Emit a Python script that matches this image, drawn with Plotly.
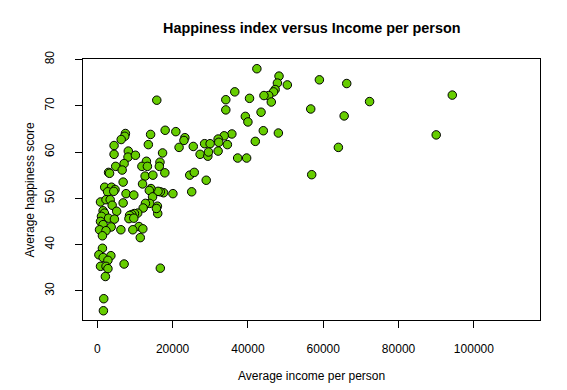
import plotly.graph_objects as go

# Average income per person (x) and average happiness score (y)
income = [15800, 18030, 20860, 23260, 23010, 21720, 14160, 13560, 7470, 7300,
          6350, 4460, 4460, 8240, 8160, 10130, 7130, 4890, 6610, 3000,
          3260, 13050, 11850, 13310, 12700, 14760, 17340, 16650, 16480, 17940,
          24550, 25750, 27300, 25490, 28500, 29360, 28930, 25070, 20090, 17600,
          16740, 16140, 14250, 13820, 14680, 13910, 12790, 12190, 10730, 9870,
          9190, 8580, 8410, 9700, 11070, 12100, 9440, 11420, 6270, 7130,
          16740, 15970, 16050, 6870, 6870, 7640, 9700, 12020, 1970, 3780,
          4720, 2750, 4380, 860, 2320, 3430, 3950, 5150, 1550, 1890,
          1120, 3000, 4550, 860, 1550, 3690, 600, 2320, 1370, 1370,
          430, 3610, 1550, 2830, 860, 2320, 2830, 2150, 1720, 1630,
          15710,
          42380, 48260, 47830, 50470, 47230, 46810, 45530, 44260, 46210, 40430,
          36510, 34130, 34130, 39320, 40000, 43490, 44090, 48090, 41960, 35740,
          33700, 32090, 32260, 34550, 32090, 37280, 39660, 56680, 58980, 56940,
          29960, 29530,
          66240, 72310, 65560, 64020, 94270, 90000]

happiness = [71.2, 64.7, 64.4, 63.1, 62.5, 61.0, 63.8, 61.6, 64.0, 63.4,
             62.7, 61.4, 59.5, 60.2, 58.9, 59.3, 57.5, 56.9, 56.1, 55.6,
             55.4, 58.0, 56.9, 56.9, 54.8, 55.0, 59.8, 57.8, 56.9, 55.5,
             55.0, 55.6, 59.5, 61.2, 61.8, 59.1, 53.9, 51.4, 51.0, 51.2,
             51.4, 51.5, 52.1, 51.7, 50.3, 48.9, 48.9, 47.9, 46.8, 46.7,
             46.5, 46.3, 45.6, 45.7, 43.9, 43.4, 43.2, 41.5, 43.2, 35.8,
             34.9, 48.3, 46.7, 49.0, 53.5, 51.0, 50.7, 53.1, 52.4, 52.4,
             51.9, 51.4, 51.5, 49.2, 49.7, 49.7, 48.5, 47.2, 47.3, 46.8,
             46.1, 45.7, 45.5, 45.0, 44.3, 43.8, 43.2, 43.0, 41.9, 39.2,
             37.8, 37.6, 37.2, 36.6, 35.3, 35.3, 34.8, 33.1, 28.3, 25.7,
             47.8,
             78.0, 76.4, 74.9, 74.5, 73.5, 73.0, 72.2, 72.2, 70.8, 71.6,
             73.0, 71.3, 69.1, 67.7, 66.5, 68.6, 64.6, 64.1, 62.3, 63.9,
             63.5, 62.8, 62.1, 61.6, 60.2, 58.7, 58.7, 69.3, 75.6, 55.1,
             61.8, 60.0,
             74.8, 70.9, 67.8, 61.0, 72.3, 63.7]

x_ticks = [0, 20000, 40000, 60000, 80000, 100000]
x_tick_labels = ["0", "20000", "40000", "60000", "80000", "100000"]
y_ticks = [30, 40, 50, 60, 70, 80]
y_tick_labels = ["30", "40", "50", "60", "70", "80"]

FONT = "Liberation Sans, Arial, Helvetica, sans-serif"

fig = go.Figure()
fig.add_trace(go.Scatter(
    x=income, y=happiness, mode="markers",
    marker=dict(size=8.5, color="#66CD00", line=dict(color="#000000", width=1)),
    hoverinfo="x+y", showlegend=False,
))

axis_common = dict(
    showgrid=False, zeroline=False, showline=True, linecolor="#000000",
    linewidth=1, mirror=True, ticks="outside", ticklen=7, tickwidth=1,
    tickcolor="#000000", tickfont=dict(family=FONT, size=12, color="#000000"),
)

fig.update_layout(
    width=567, height=390,
    margin=dict(l=75, r=35, t=51, b=78),
    paper_bgcolor="white", plot_bgcolor="white",
    xaxis=dict(range=[-3790, 117560], tickvals=x_ticks, ticktext=x_tick_labels,
               ticklabelstandoff=11, **axis_common),
    yaxis=dict(range=[23.7, 80.1], tickvals=y_ticks, ticktext=y_tick_labels,
               tickangle=-90, ticklabelstandoff=16, **axis_common),
    annotations=[
        dict(text="<b>Happiness index versus Income per person</b>",
             xref="paper", yref="paper", x=0.5, y=1, yshift=31,
             xanchor="center", yanchor="middle", showarrow=False,
             font=dict(family=FONT, size=14.4, color="#000000")),
        dict(text="Average income per person", xref="paper", yref="paper",
             x=0.5, y=0, yshift=-56, xanchor="center", yanchor="middle",
             showarrow=False, font=dict(family=FONT, size=12, color="#000000")),
        dict(text="Average happiness score", xref="paper", yref="paper",
             x=0, y=0.5, xshift=-54, xanchor="center", yanchor="middle",
             textangle=-90, showarrow=False,
             font=dict(family=FONT, size=12, color="#000000")),
    ],
)

fig.write_html("out.html")
